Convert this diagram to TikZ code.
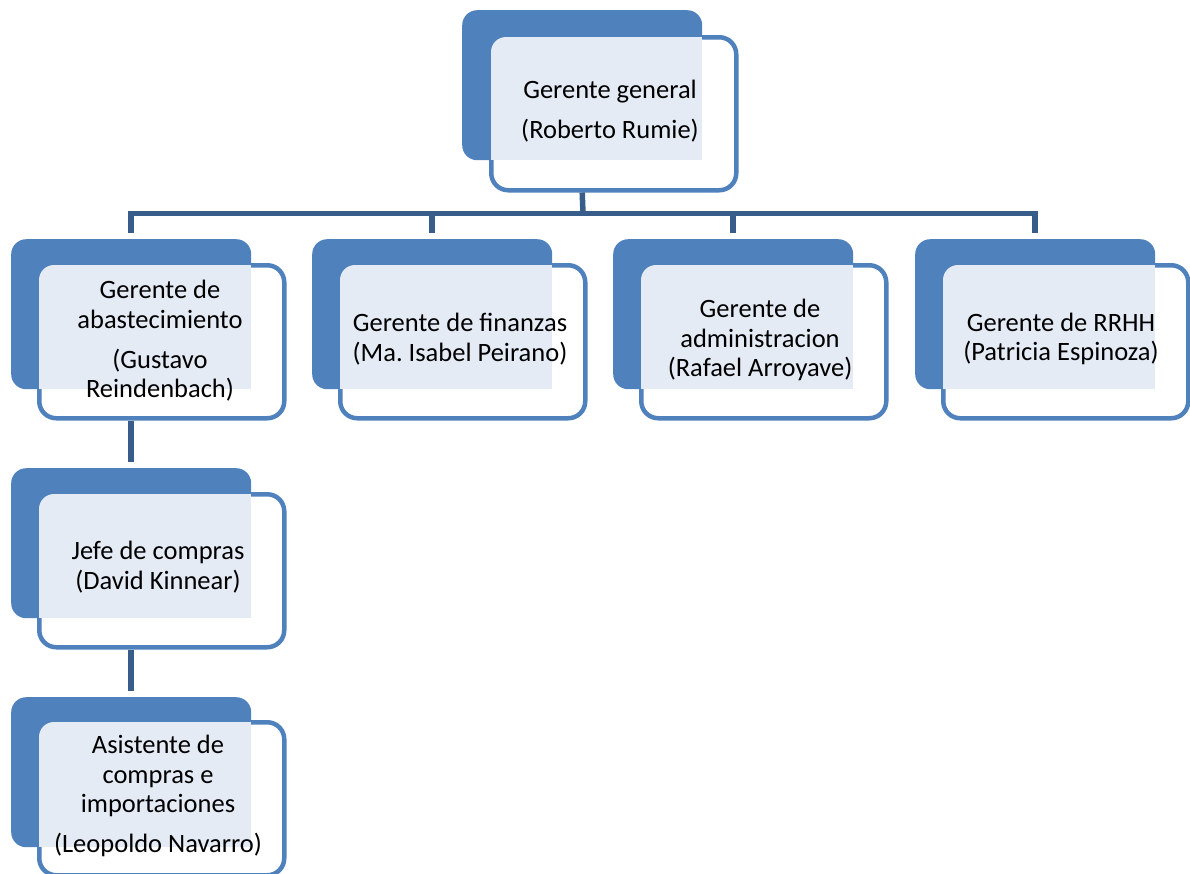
\documentclass[tikz,border=0pt]{standalone}
\usepackage{fontspec}
\setmainfont{Carlito}
\definecolor{azul}{RGB}{79,129,189}
\definecolor{oscuro}{RGB}{56,93,138}
\definecolor{punteado}{RGB}{228,235,245}

\begin{document}
\begin{tikzpicture}[x=1pt, y=-1pt,
    fondo/.style={fill=azul, rounded corners=15pt, minimum width=240pt, minimum height=150pt, anchor=north west, inner sep=0pt},
    caja/.style={draw=azul, line width=4.5pt, fill=white, rounded corners=17pt, minimum width=245pt, minimum height=153pt, anchor=north west, inner sep=0pt},
    texto/.style={align=center, font=\fontsize{26.5}{29.5}\selectfont, inner sep=0pt},
    linea/.style={draw=oscuro, line width=5.5pt}]
            \useasboundingbox (0,0) rectangle (1190,873);

            % Gerente general
            \node[fondo] (ggf) at (462,10) {};
            \node[caja] (gg) at (489,35) {};
            \begin{scope}
                \clip[rounded corners=15pt] (491,37) rectangle (732,186);
                \fill[punteado] (491,37) rectangle (702,160);
            \end{scope}
            \node[texto] (ggt) at (610,111) {Gerente general\\[10.5pt](Roberto Rumie)};

            % Gerente de abastecimiento
            \node[fondo] (abf) at (11,239) {};
            \node[caja] (ab) at (37,263) {};
            \begin{scope}
                \clip[rounded corners=15pt] (39,265) rectangle (280,414);
                \fill[punteado] (39,265) rectangle (251,389);
            \end{scope}
            \node[texto] (abt) at (160,341) {Gerente de\\abastecimiento\\[10.5pt](Gustavo\\Reindenbach)};

            % Gerente de finanzas
            \node[fondo] (fif) at (312,239) {};
            \node[caja] (fi) at (338,263) {};
            \begin{scope}
                \clip[rounded corners=15pt] (340,265) rectangle (581,414);
                \fill[punteado] (340,265) rectangle (552,389);
            \end{scope}
            \node[texto] (fit) at (460,339) {Gerente de finanzas\\(Ma.\ Isabel Peirano)};

            % Gerente de administracion
            \node[fondo] (adf) at (613,239) {};
            \node[caja] (ad) at (639,263) {};
            \begin{scope}
                \clip[rounded corners=15pt] (641,265) rectangle (882,414);
                \fill[punteado] (641,265) rectangle (853,389);
            \end{scope}
            \node[texto] (adt) at (760,340) {Gerente de\\administracion\\(Rafael Arroyave)};

            % Gerente de RRHH
            \node[fondo] (rhf) at (915,239) {};
            \node[caja] (rh) at (941,263) {};
            \begin{scope}
                \clip[rounded corners=15pt] (943,265) rectangle (1184,414);
                \fill[punteado] (943,265) rectangle (1155,389);
            \end{scope}
            \node[texto] (rht) at (1061,339) {Gerente de RRHH\\(Patricia Espinoza)};

            % Jefe de compras
            \node[fondo] (jcf) at (11,468) {};
            \node[caja] (jc) at (37,492) {};
            \begin{scope}
                \clip[rounded corners=15pt] (39,494) rectangle (280,643);
                \fill[punteado] (39,494) rectangle (251,618);
            \end{scope}
            \node[texto] (jct) at (158,567) {Jefe de compras\\(David Kinnear)};

            % Asistente de compras e importaciones
            \node[fondo] (acf) at (11,697) {};
            \node[caja] (ac) at (37,720) {};
            \begin{scope}
                \clip[rounded corners=15pt] (39,722) rectangle (280,871);
                \fill[punteado] (39,722) rectangle (251,847);
            \end{scope}
            \node[texto] (act) at (158,796) {Asistente de\\compras e\\importaciones\\[10.5pt](Leopoldo Navarro)};

            \coordinate (barra) at (583,213.5);
            \draw[linea] (ggf.south |- gg.south) -- (barra);
            \draw[linea, shorten <=6pt, shorten >=6pt] (abf.north) -- (abf.north |- barra) -- (rhf.north |- barra) -- (rhf.north);
            \draw[linea, shorten >=6pt] (fif.north |- barra) -- (fif.north);
            \draw[linea, shorten >=6pt] (adf.north |- barra) -- (adf.north);
            \draw[linea, shorten >=6pt] (ab.south -| abf.south) -- (jcf.north);
            \draw[linea, shorten >=6pt] (jc.south -| jcf.south) -- (acf.north);
        \end{tikzpicture}
\end{document}
